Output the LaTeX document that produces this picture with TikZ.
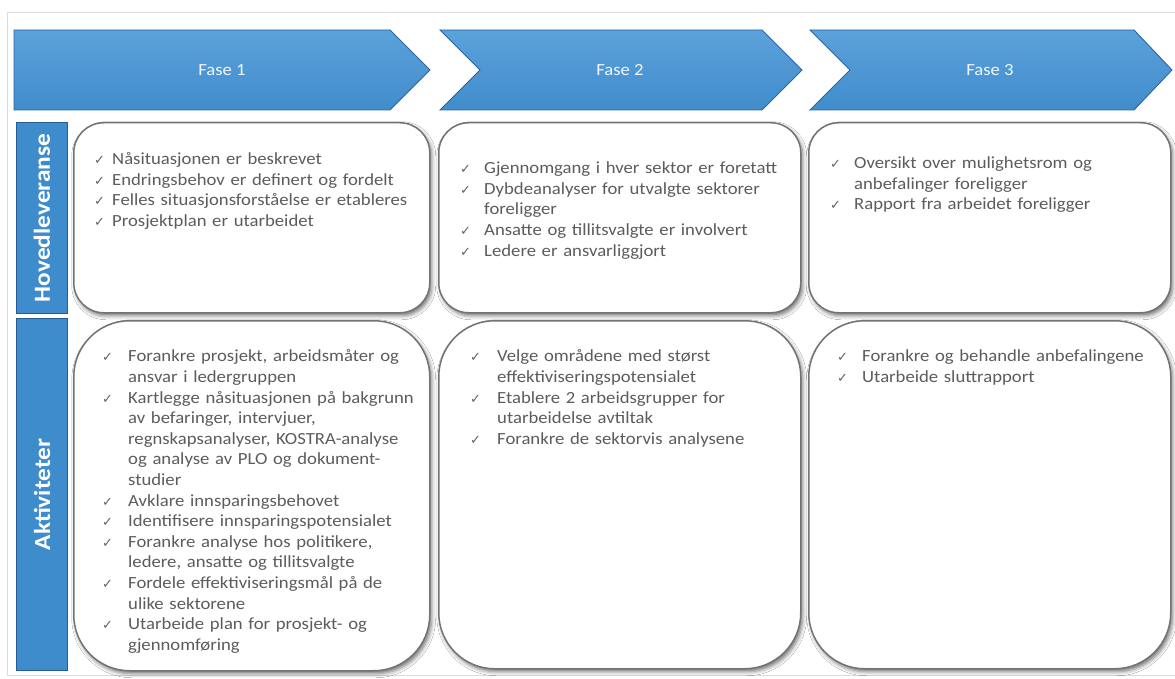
\documentclass[tikz,border=0pt]{standalone}
\usepackage{fontspec}
\setmainfont{Carlito}[FakeStretch=1.1]
\newfontfamily\dejavu{DejaVu Sans}
\usetikzlibrary{shadows.blur}
\definecolor{txt}{RGB}{92,92,92}
\definecolor{chkc}{RGB}{100,100,100}
\definecolor{chevtop}{RGB}{92,162,218}
\definecolor{chevbot}{RGB}{64,140,204}
\definecolor{chevedge}{RGB}{44,102,160}
\definecolor{barfill}{RGB}{62,140,204}
\definecolor{baredge}{RGB}{38,92,148}
\definecolor{boxedge}{RGB}{115,115,115}
\definecolor{frame}{RGB}{218,218,218}
\definecolor{fasetxt}{RGB}{240,246,252}
\newlength\chkw
\newcommand\chk{{\dejavu\fontsize{13}{13}\selectfont\color{chkc}✓}}
\newcommand\nl{\hfil\break}
\newcommand\itm[1]{\par\noindent\hangindent=\chkw\hangafter=1\makebox[\chkw][l]{\chk}#1\par}
\begin{document}
\begin{tikzpicture}[x=1pt,y=-1pt,
  chev/.style={top color=chevtop, bottom color=chevbot, draw=chevedge, line width=0.9pt, line join=miter},
  box/.style={draw=boxedge, line width=1.5pt, fill=white, inner sep=0pt, anchor=north west,
    blur shadow={shadow xshift=2pt, shadow yshift=-3pt, shadow blur radius=4pt, shadow opacity=55}},
  bar/.style={fill=barfill, draw=baredge, line width=1pt, inner sep=0pt, anchor=north west},
  fase/.style={text=fasetxt, font=\fontsize{17}{20}\selectfont},
  vlab/.style={text=white, font=\bfseries\fontsize{23}{27}\selectfont, rotate=90},
  itemtext/.style={anchor=north west, inner sep=0pt, text width=345pt, text=txt, font=\fontsize{17}{20.6}\selectfont}
]
\useasboundingbox[fill=white] (0,0) rectangle (1175,679);
\draw[frame, line width=0.8pt] (7,12) rectangle (1175,675);

% chevrons
\draw[chev] (14,30) -- (390,30) -- (430,70) -- (390,110) -- (14,110) -- cycle;
\draw[chev] (440,30) -- (762,30) -- (802,70) -- (762,110) -- (440,110) -- (480,70) -- cycle;
\draw[chev] (810,30) -- (1134,30) -- (1172,70) -- (1134,110) -- (810,110) -- (850,70) -- cycle;
\node[fase] (f1) at (222,70) {Fase 1};
\node[fase] (f2) at (620,70) {Fase 2};
\node[fase] (f3) at (990,70) {Fase 3};

% side bars
\node[bar, minimum width=51pt, minimum height=191pt] (hb) at (16,122) {};
\node[bar, minimum width=51pt, minimum height=352pt] (ab) at (16,318) {};
\node[vlab] (hl) at (hb.center) {Hovedleveranse};
\node[vlab] (al) at (ab.center) {Aktiviteter};

% boxes
\node[box, rounded corners=30pt, minimum width=356pt, minimum height=190pt] (b11) at (73,122) {};
\node[box, rounded corners=30pt, minimum width=362pt, minimum height=190pt] (b12) at (438,122) {};
\node[box, rounded corners=30pt, minimum width=362pt, minimum height=190pt] (b13) at (808,122) {};
\node[box, rounded corners=56pt, minimum width=356pt, minimum height=350pt] (b21) at (73,320) {};
\node[box, rounded corners=56pt, minimum width=362pt, minimum height=348pt] (b22) at (438,320) {};
\node[box, rounded corners=56pt, minimum width=362pt, minimum height=348pt] (b23) at (808,320) {};

% texts
\node[itemtext] (t11) at (94,144) {\setlength\chkw{18pt}%
\itm{Nåsituasjonen  er beskrevet}
\itm{Endringsbehov er definert og fordelt}
\itm{Felles situasjonsforståelse  er etableres}
\itm{Prosjektplan er utarbeidet}};

\node[itemtext] (t12) at (460,153) {\setlength\chkw{24pt}%
\itm{Gjennomgang i hver sektor er foretatt}
\itm{Dybdeanalyser for utvalgte sektorer\nl foreligger}
\itm{Ansatte og tillitsvalgte er involvert}
\itm{Ledere er ansvarliggjort}};

\node[itemtext] (t13) at (830,148) {\setlength\chkw{24pt}%
\itm{Oversikt over mulighetsrom og\nl anbefalinger foreligger}
\itm{Rapport fra arbeidet foreligger}};

\node[itemtext] (t21) at (102,341) {\setlength\chkw{26pt}%
\itm{Forankre prosjekt, arbeidsmåter og\nl ansvar i ledergruppen}
\itm{Kartlegge nåsituasjonen på bakgrunn\nl av befaringer, intervjuer,\nl regnskapsanalyser, KOSTRA-analyse\nl og analyse av PLO og dokument-\nl studier}
\itm{Avklare innsparingsbehovet}
\itm{Identifisere innsparingspotensialet}
\itm{Forankre analyse hos politikere,\nl ledere, ansatte og tillitsvalgte}
\itm{Fordele effektiviseringsmål på de\nl ulike sektorene}
\itm{Utarbeide plan for prosjekt- og\nl gjennomføring}};

\node[itemtext] (t22) at (470,341) {\setlength\chkw{27pt}%
\itm{Velge områdene med størst\nl effektiviseringspotensialet}
\itm{Etablere 2 arbeidsgrupper for\nl utarbeidelse avtiltak}
\itm{Forankre de sektorvis analysene}};

\node[itemtext] (t23) at (837,341) {\setlength\chkw{25pt}%
\itm{Forankre og behandle anbefalingene}
\itm{Utarbeide sluttrapport}};
\end{tikzpicture}
\end{document}
